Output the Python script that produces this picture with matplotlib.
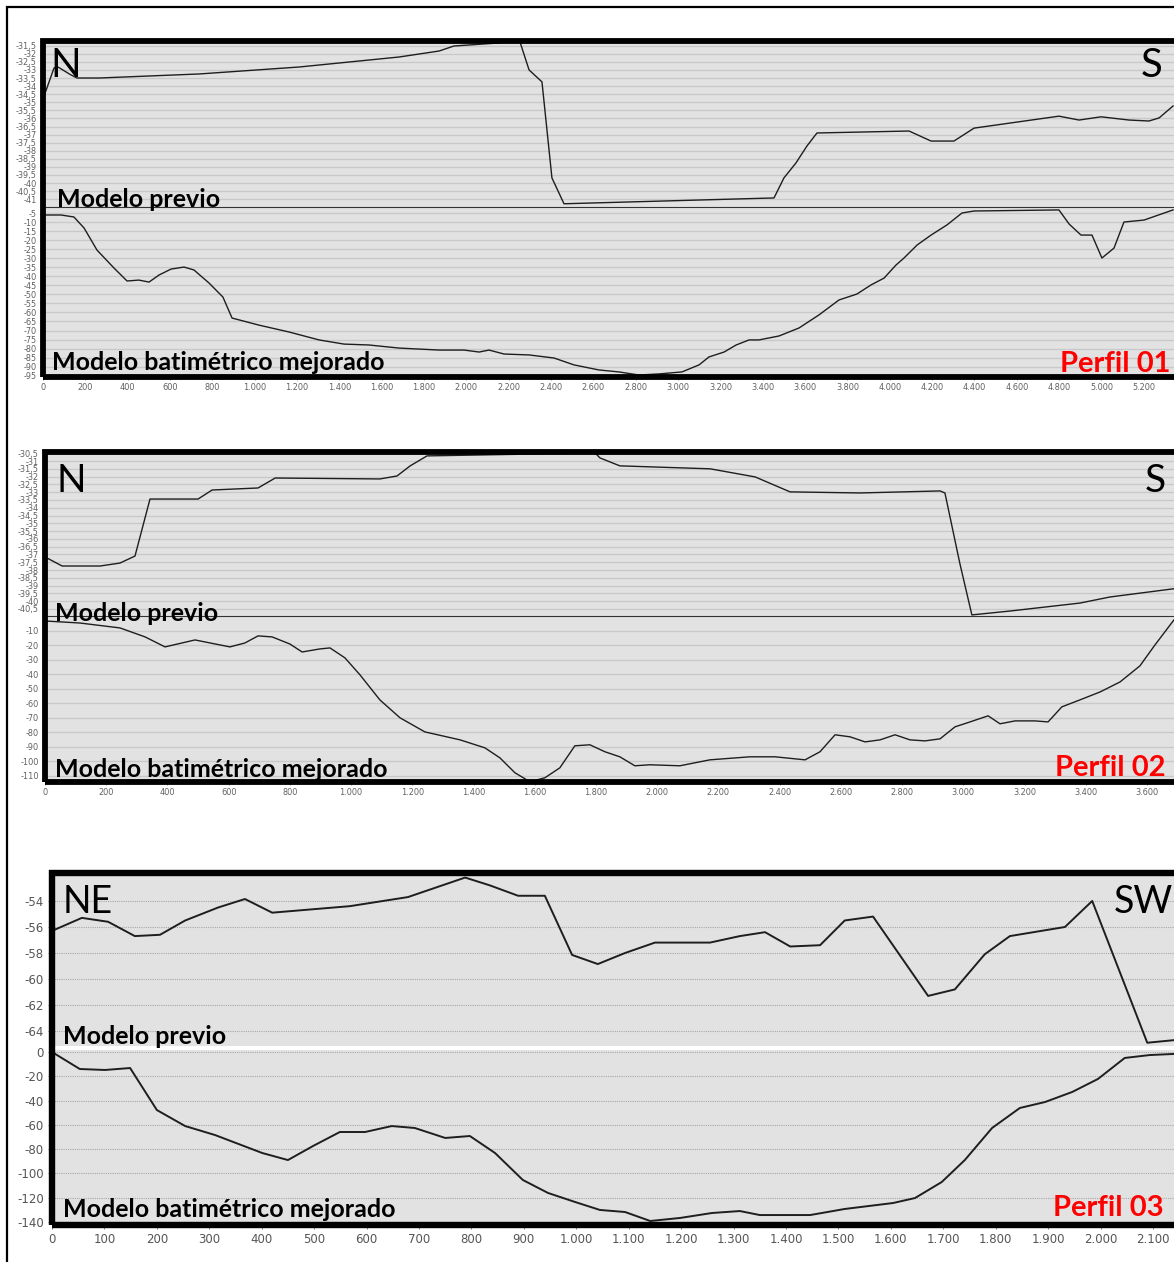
import matplotlib
matplotlib.use("Agg")
import matplotlib.pyplot as plt
from matplotlib.patches import Rectangle
from matplotlib.ticker import FixedLocator, FuncFormatter
import numpy as np

W, H = 1174, 1262

# Perfil 01 (distancia en m, profundidad en m)
p1_prev_x = [0, 52, 71, 132, 161, 265, 737, 1209, 1682, 1871, 1941, 2154, 2249, 2296,
             2357, 2404, 2461, 3453, 3500, 3557, 3609, 3656, 4091, 4195, 4303, 4398,
             4799, 4894, 4998, 5130, 5224, 5272, 5338]
p1_prev_z = [-34.8, -32.88, -32.82, -33.31, -33.5, -33.5, -33.25, -32.82, -32.2, -31.83,
             -31.52, -31.33, -31.1, -33.0, -33.74, -39.68, -41.28, -40.92, -39.68,
             -38.75, -37.7, -36.9, -36.78, -37.4, -37.4, -36.6, -35.86, -36.1, -35.9,
             -36.1, -36.16, -35.97, -35.23]
p1_mej_x = [0, 85, 146, 194, 255, 335, 397, 453, 501, 548, 605, 666, 713, 784, 850, 893,
            1020, 1162, 1304, 1422, 1540, 1682, 1871, 1989, 2060, 2107, 2178, 2296, 2414,
            2508, 2626, 2721, 2815, 2910, 3018, 3099, 3146, 3217, 3274, 3335, 3382, 3477,
            3571, 3665, 3760, 3845, 3911, 3973, 4029, 4067, 4129, 4195, 4270, 4341, 4398,
            4799, 4847, 4903, 4955, 5002, 5059, 5106, 5201, 5338]
p1_mej_z = [-6.1, -6.1, -7.2, -13.3, -25.5, -35.4, -42.6, -42.1, -43.2, -39.3, -36.0,
            -34.9, -36.5, -43.7, -51.5, -63.1, -67.0, -70.8, -75.2, -77.5, -78.0, -79.7,
            -80.8, -80.8, -81.9, -80.8, -83.0, -83.5, -85.2, -89.0, -91.8, -92.9, -94.6,
            -94.0, -92.9, -89.0, -84.6, -81.9, -78.0, -75.2, -75.2, -73.0, -68.6, -61.4,
            -53.1, -49.8, -44.8, -41.0, -33.8, -29.9, -22.7, -17.2, -11.6, -5.0, -3.9,
            -3.3, -11.1, -17.2, -17.2, -29.9, -24.4, -10.0, -8.9, -3.3]

# Perfil 02
p2_prev_x = [0, 56, 180, 245, 294, 343, 500, 546, 696, 752, 1094, 1150, 1193, 1248,
             1797, 1813, 1878, 2173, 2320, 2434, 2662, 2924, 2940, 2989, 3028, 3153,
             3381, 3479, 3688]
p2_prev_z = [-37.16, -37.74, -37.74, -37.55, -37.1, -33.44, -33.44, -32.86, -32.73,
             -32.09, -32.15, -31.96, -31.31, -30.67, -30.48, -30.8, -31.31, -31.5,
             -32.02, -32.98, -33.05, -32.92, -33.05, -37.6, -40.88, -40.63, -40.12,
             -39.73, -39.2]
p2_mej_x = [0, 114, 245, 327, 392, 490, 604, 653, 696, 742, 800, 840, 898, 931, 980,
            1029, 1094, 1160, 1241, 1356, 1437, 1486, 1535, 1584, 1633, 1682, 1731,
            1780, 1829, 1878, 1927, 1976, 2074, 2172, 2303, 2385, 2483, 2532, 2581,
            2630, 2679, 2728, 2777, 2826, 2875, 2924, 2973, 3022, 3081, 3120, 3169,
            3234, 3277, 3322, 3381, 3447, 3512, 3577, 3626, 3688]
p2_mej_z = [-3.1, -4.5, -7.9, -14.1, -21.0, -16.2, -21.0, -18.3, -13.4, -14.1, -19.0,
            -24.5, -22.4, -21.7, -28.6, -40.3, -57.6, -70.0, -79.7, -85.2, -90.7, -97.6,
            -107.9, -114.1, -111.4, -104.5, -89.3, -88.6, -93.4, -96.9, -103.1, -102.4,
            -103.1, -99.0, -96.9, -96.9, -99.0, -93.4, -81.7, -83.1, -86.6, -85.2,
            -81.7, -85.2, -85.9, -84.5, -76.2, -72.8, -68.6, -74.1, -72.1, -72.1, -72.8,
            -62.4, -57.6, -52.1, -45.2, -34.1, -19.7, -2.4]

# Perfil 03
p3_prev_x = [0, 57, 107, 158, 206, 254, 317, 368, 420, 568, 679, 788, 835, 889, 940,
             992, 1041, 1093, 1150, 1255, 1312, 1360, 1408, 1465, 1512, 1566, 1671, 1722,
             1779, 1827, 1932, 1984, 2089, 2140]
p3_prev_z = [-56.3, -55.3, -55.6, -56.7, -56.6, -55.5, -54.5, -53.85, -54.9, -54.4,
             -53.7, -52.2, -52.8, -53.6, -53.6, -58.15, -58.85, -58.0, -57.2, -57.2,
             -56.7, -56.4, -57.5, -57.4, -55.5, -55.2, -61.3, -60.8, -58.1, -56.7, -56.0,
             -54.0, -64.9, -64.7]
p3_mej_x = [0, 53, 101, 149, 200, 254, 311, 401, 450, 498, 549, 597, 648, 692, 750, 797,
            845, 898, 946, 998, 1045, 1093, 1141, 1198, 1259, 1312, 1350, 1446, 1512,
            1604, 1646, 1697, 1741, 1793, 1846, 1894, 1946, 1995, 2046, 2094, 2140]
p3_mej_z = [0, -14.0, -14.8, -13.2, -47.8, -61.0, -68.4, -83.2, -89.0, -77.4, -65.9,
            -65.9, -61.0, -62.6, -70.8, -69.2, -83.2, -105.4, -116.1, -123.6, -130.1,
            -131.8, -139.2, -136.7, -132.6, -131.0, -134.3, -134.3, -129.3, -124.4,
            -120.3, -107.1, -89.0, -62.6, -46.1, -41.2, -32.9, -22.2, -4.9, -2.5, -1.6]

# ticks
p1_xticks = np.arange(0, 5201, 200)
p1_prev_yticks = np.arange(-31.5, -41.01, -0.5)
p1_mej_yticks = np.arange(-5, -96, -5)
p2_xticks = np.arange(0, 3601, 200)
p2_prev_yticks = np.arange(-30.5, -40.51, -0.5)
p2_mej_yticks = np.arange(-10, -111, -10)
p3_xticks = np.arange(0, 2101, 100)
p3_prev_yticks = np.arange(-54, -64.1, -2)
p3_mej_yticks = np.arange(0, -141, -20)

directions = [("N", "S"), ("N", "S"), ("NE", "SW")]
perfiles = ["Perfil 01", "Perfil 02", "Perfil 03"]


def fmt_x(v, pos=None):
    return f"{int(round(v)):,}".replace(",", ".")


def fmt_y(v, pos=None):
    if abs(v - round(v)) < 1e-6:
        return str(int(round(v)))
    return f"{v:.1f}".replace(".", ",")


def box(left, top, right, bottom):
    return [left / W, 1 - bottom / H, (right - left) / W, (bottom - top) / H]


def ftext(px, py, s, **kw):
    fig.text(px / W, 1 - py / H, s, **kw)


fig = plt.figure(figsize=(W / 100, H / 100), dpi=100)
fig.patch.set_facecolor("white")

# marco exterior
fig.add_artist(Rectangle((7 / W, -0.1), 1.2, 1.1 - 7 / H, transform=fig.transFigure,
                         fill=False, lw=1.6, ec="black"))


def make_axes(rect, xs, zs, xlim, ylim, yticks, xticks, small, show_x):
    ax = fig.add_axes(rect)
    bg = "#e2e2e2"
    ax.set_facecolor(bg)
    ax.plot(xs, zs, color="#1e1e1e", lw=1.0 if small else 1.4, zorder=3)
    ax.set_xlim(*xlim)
    ax.set_ylim(*ylim)
    ax.yaxis.set_major_locator(FixedLocator(yticks))
    ax.yaxis.set_major_formatter(FuncFormatter(fmt_y))
    ax.xaxis.set_major_locator(FixedLocator(xticks))
    ax.xaxis.set_major_formatter(FuncFormatter(fmt_x))
    if small:
        ax.grid(axis="y", color="#c9c9c9", lw=1.0)
        ax.tick_params(axis="both", labelsize=5.9, labelcolor="#606060", length=2,
                       width=0.6, color="#808080", pad=2.5)
    else:
        ax.grid(axis="y", color="#a8a8a8", lw=0.8, ls=(0, (1, 1)))
        ax.tick_params(axis="both", labelsize=8.5, labelcolor="#555555", length=3,
                       width=0.7, color="#808080", pad=3)
    ax.set_axisbelow(True)
    for s in ax.spines.values():
        s.set_visible(False)
    if not show_x:
        ax.tick_params(axis="x", bottom=False, labelbottom=False)
    return ax


panels = [
    dict(left=43, top=41, mid=207, gap=0, bottom=377, px_per=0.2117,
         prev=(p1_prev_x, p1_prev_z), mej=(p1_mej_x, p1_mej_z),
         ylim_prev=(-41.48, -31.21), ylim_mej=(-95.7, -1.68),
         yt_prev=p1_prev_yticks, yt_mej=p1_mej_yticks, xt=p1_xticks, small=True,
         dir_base=77, dir_left=50, dir_right=1163, dir_size=29,
         prev_base=207, prev_left=57, mej_base=370, mej_left=52,
         perf_left=1060, perf_base=372),
    dict(left=45, top=452, mid=616, gap=0, bottom=782, px_per=0.3061,
         prev=(p2_prev_x, p2_prev_z), mej=(p2_mej_x, p2_mej_z),
         ylim_prev=(-40.95, -30.42), ylim_mej=(-114.3, 0.34),
         yt_prev=p2_prev_yticks, yt_mej=p2_mej_yticks, xt=p2_xticks, small=True,
         dir_base=492, dir_left=56, dir_right=1166, dir_size=28,
         prev_base=621, prev_left=55, mej_base=777, mej_left=55,
         perf_left=1055, perf_base=776),
    dict(left=52, top=873, mid=1046, gap=4, bottom=1225, px_per=0.5243,
         prev=(p3_prev_x, p3_prev_z), mej=(p3_mej_x, p3_mej_z),
         ylim_prev=(-65.15, -51.85), ylim_mej=(-142.5, 1.65),
         yt_prev=p3_prev_yticks, yt_mej=p3_mej_yticks, xt=p3_xticks, small=False,
         dir_base=913, dir_left=63, dir_right=1173, dir_size=27,
         prev_base=1044, prev_left=63, mej_base=1217, mej_left=63,
         perf_left=1053, perf_base=1216),
]

right_px = 1230
for i, p in enumerate(panels):
    xlim = (0, (right_px - p["left"]) / p["px_per"])
    ax_up = make_axes(box(p["left"], p["top"], right_px, p["mid"]), *p["prev"], xlim,
                      p["ylim_prev"], p["yt_prev"], p["xt"], p["small"], False)
    ax_lo = make_axes(box(p["left"], p["mid"] + p["gap"], right_px, p["bottom"]),
                      *p["mej"], xlim, p["ylim_mej"], p["yt_mej"], p["xt"], p["small"],
                      True)
    if p["gap"] == 0:
        ax_lo.spines["top"].set_visible(True)
        ax_lo.spines["top"].set_color("#333333")
        ax_lo.spines["top"].set_linewidth(0.8)

    # borde grueso del perfil
    fig.add_artist(Rectangle((p["left"] / W, 1 - p["bottom"] / H),
                             (right_px + 20 - p["left"]) / W,
                             (p["bottom"] - p["top"]) / H, transform=fig.transFigure,
                             fill=False, lw=4.2 if p["small"] else 4.6, ec="black",
                             zorder=5))

    d1, d2 = directions[i]
    ftext(p["dir_left"], p["dir_base"], d1, fontsize=p["dir_size"], family="Lato",
          va="baseline", ha="left")
    ftext(p["dir_right"], p["dir_base"], d2, fontsize=p["dir_size"], family="Lato",
          va="baseline", ha="right")
    ftext(p["prev_left"], p["prev_base"], "Modelo previo", fontsize=18,
          family="Lato", weight="bold", va="baseline", ha="left")
    ftext(p["mej_left"], p["mej_base"], "Modelo batimétrico mejorado", fontsize=18,
          family="Lato", weight="bold", va="baseline", ha="left")
    ftext(p["perf_left"], p["perf_base"], perfiles[i], fontsize=21, family="Lato",
          weight="bold", color="#ff0000", va="baseline", ha="left")

fig.savefig("out.png", dpi=100)
